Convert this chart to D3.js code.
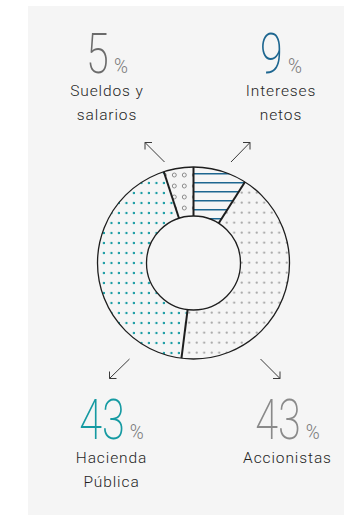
<!DOCTYPE html>
<html><head><meta charset="utf-8">
<script src="https://cdn.jsdelivr.net/npm/d3@7"></script>
<style>
html,body{margin:0;padding:0;background:#fff;}
svg{display:block;}
</style></head>
<body>
<script>
// ---- data ----
const categories = ["Intereses netos", "Accionistas", "Hacienda Pública", "Sueldos y salarios"];
const values = [9, 43, 43, 5];
const valueLabels = ["9", "43", "43", "5"];
const labelLines = [["Intereses", "netos"], ["Accionistas"], ["Hacienda", "Pública"], ["Sueldos y", "salarios"]];

const W = 344, H = 515;
const cx = 193.5, cy = 263, R = 96, r0 = 47;
const BG = "#f5f5f5";

const svg = d3.select("body").append("svg").attr("width", W).attr("height", H);
svg.append("rect").attr("x", 28).attr("y", 6).attr("width", W - 28).attr("height", H - 6).attr("fill", BG);

const defs = svg.append("defs");
// blue horizontal lines
const pBlue = defs.append("pattern").attr("id", "pBlue").attr("patternUnits", "userSpaceOnUse")
  .attr("width", 10).attr("height", 9);
pBlue.append("rect").attr("width", 10).attr("height", 9).attr("fill", BG);
pBlue.append("rect").attr("x", 0).attr("y", 2).attr("width", 10).attr("height", 1.5).attr("fill", "#1d6690");
// gray dots
const pGray = defs.append("pattern").attr("id", "pGray").attr("patternUnits", "userSpaceOnUse")
  .attr("width", 7.5).attr("height", 10);
pGray.append("rect").attr("width", 7.5).attr("height", 10).attr("fill", BG);
pGray.append("circle").attr("cx", 1.7).attr("cy", 2.7).attr("r", 1.15).attr("fill", "#aaaaaa");
// teal dots
const pTeal = defs.append("pattern").attr("id", "pTeal").attr("patternUnits", "userSpaceOnUse")
  .attr("width", 7.5).attr("height", 10);
pTeal.append("rect").attr("width", 7.5).attr("height", 10).attr("fill", BG);
pTeal.append("circle").attr("cx", 6.5).attr("cy", 3).attr("r", 1.2).attr("fill", "#159aa2");
// hollow circles
const pRing = defs.append("pattern").attr("id", "pRing").attr("patternUnits", "userSpaceOnUse")
  .attr("x", 0).attr("y", 5).attr("width", 10).attr("height", 11);
pRing.append("rect").attr("width", 10).attr("height", 11).attr("fill", BG);
pRing.append("circle").attr("cx", 4.3).attr("cy", 5).attr("r", 2).attr("fill", "none").attr("stroke", "#808080").attr("stroke-width", 0.9);

const fills = ["url(#pBlue)", "url(#pGray)", "url(#pTeal)", "url(#pRing)"];

const pie = d3.pie().sort(null).value(d => d).startAngle(0).endAngle(2 * Math.PI);
const arcs = pie(values);
const arcGen = d3.arc().innerRadius(r0).outerRadius(R);

const g = svg.append("g");
g.selectAll("path.slice").data(arcs).join("path")
  .attr("class", "slice")
  .attr("d", d => arcGen(d))
  .attr("transform", `translate(${cx},${cy})`)
  .attr("fill", (d, i) => fills[i]);
defs.selectAll("pattern").attr("patternTransform", `translate(${-cx},${-cy})`);

// outlines
g.append("circle").attr("cx", cx).attr("cy", cy).attr("r", R).attr("fill", "none").attr("stroke", "#1e1e1e").attr("stroke-width", 1.3);
g.append("circle").attr("cx", cx).attr("cy", cy).attr("r", r0).attr("fill", BG).attr("stroke", "#1e1e1e").attr("stroke-width", 1.3);
g.selectAll("line.sep").data(arcs).join("line")
  .attr("class", "sep")
  .attr("x1", d => cx + r0 * Math.sin(d.startAngle))
  .attr("y1", d => cy - r0 * Math.cos(d.startAngle))
  .attr("x2", d => cx + R * Math.sin(d.startAngle))
  .attr("y2", d => cy - R * Math.cos(d.startAngle))
  .attr("stroke", "#1e1e1e").attr("stroke-width", 2);

// arrows (relative to the donut centre): start offset, tip offset
const arrows = [
  { s: [-29, -101], t: [-48.5, -120.5] },
  { s: [37.5, -101], t: [56.5, -120.5] },
  { s: [-64, 96], t: [-84, 115.5] },
  { s: [67, 96], t: [86.5, 115.5] }
];
const headLen = 7;
arrows.forEach(a => {
  const x1 = cx + a.s[0], y1 = cy + a.s[1], x2 = cx + a.t[0], y2 = cy + a.t[1];
  const sx = Math.sign(x1 - x2), sy = Math.sign(y1 - y2);
  svg.append("path")
    .attr("d", `M${x1},${y1}L${x2},${y2}M${x2 + sx * headLen},${y2}L${x2},${y2}L${x2},${y2 + sy * headLen}`)
    .attr("fill", "none").attr("stroke", "#3a3a3a").attr("stroke-width", 1).attr("stroke-linejoin", "miter");
});

// labels
const labelPos = [
  { x: 281, numY: 72.7, lineY: 96 },
  { x: 287.5, numY: 439, lineY: 462.7 },
  { x: 111.5, numY: 439, lineY: 462.7 },
  { x: 107, numY: 72.7, lineY: 96 }
];
const numColors = ["#1d6690", "#8a8a8a", "#159aa2", "#6b6b6b"];
const numFont = "Roboto, 'Open Sans', sans-serif";
const sxNum = 0.74, sxPct = 0.9;

categories.forEach((c, i) => {
  const p = labelPos[i];
  const grp = svg.append("g");
  const num = grp.append("text").text(valueLabels[i])
    .attr("font-family", numFont).attr("font-weight", 200).attr("font-size", 56)
    .attr("fill", numColors[i]);
  const pct = grp.append("text").text("%")
    .attr("font-family", numFont).attr("font-weight", 300).attr("font-size", 21)
    .attr("fill", "#7a7a7a");
  const wN = num.node().getBBox().width * sxNum;
  const wP = pct.node().getBBox().width * sxPct;
  const gap = 5;
  const total = wN + gap + wP;
  const x0 = p.x - total / 2;
  num.attr("transform", `translate(${x0},${p.numY}) scale(${sxNum},1)`);
  pct.attr("transform", `translate(${x0 + wN + gap},${p.numY}) scale(${sxPct},1)`);
  labelLines[i].forEach((ln, k) => {
    svg.append("text").text(ln)
      .attr("x", p.x).attr("y", p.lineY + k * 24)
      .attr("text-anchor", "middle")
      .attr("font-family", "Roboto, sans-serif").attr("font-weight", 300).attr("font-size", 15.5)
      .attr("letter-spacing", 0.9)
      .attr("fill", "#1f1f1f");
  });
});
</script>
</body></html>
